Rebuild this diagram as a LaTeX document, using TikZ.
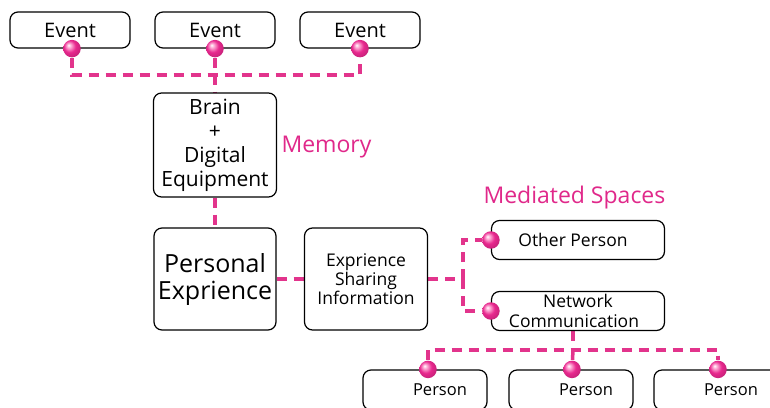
\documentclass[tikz,border=0pt]{standalone}
\usepackage{fontspec}
\setmainfont{Open Sans}
\usetikzlibrary{positioning, backgrounds}

\definecolor{linkpink}{HTML}{E2348C}
\definecolor{labelpink}{HTML}{E0288A}
\definecolor{dotpink}{HTML}{E8288E}
\definecolor{dotlight}{HTML}{FFB8DC}

\pgfdeclareradialshading{pinkball}{\pgfqpoint{-10bp}{10bp}}{%
  color(0bp)=(white); color(5bp)=(dotlight); color(17bp)=(dotpink);
  color(30bp)=(dotpink!85!black); color(50bp)=(dotpink!60!black)}

\begin{document}
\begin{tikzpicture}[
    x=1pt, y=-1pt,
    box/.style={
        rectangle, draw, line width=1.2pt, rounded corners=8pt,
        align=center, fill=white, inner sep=2pt
    },
    eventbox/.style={box, minimum width=120pt, minimum height=36pt,
        font=\fontsize{20}{22}\selectfont},
    personbox/.style={box, minimum width=124pt, minimum height=40pt,
        font=\fontsize{16.5}{20}\selectfont},
    spacebox/.style={box, minimum width=173pt, minimum height=39pt,
        font=\fontsize{17.5}{20}\selectfont},
    dot/.style={circle, shading=pinkball, shade, minimum size=17.5pt, inner sep=0pt},
    link/.style={draw=linkpink, line width=3.5pt, dash pattern=on 10pt off 7pt},
    tag/.style={text=labelpink, font=\fontsize{23}{26}\selectfont, anchor=west}
]
\clip (0,0) rectangle (770,407);

%% ─── TOP: Events ─────────────────────────────────────────────
\node[eventbox] (event1) at (70,30)  {Event};
\node[eventbox] (event2) at (215,30) {Event};
\node[eventbox] (event3) at (360,30) {Event};

\node[dot] (evdot1) at ([xshift=2pt]event1.south) {};
\node[dot] (evdot2) at (event2.south) {};
\node[dot] (evdot3) at (event3.south) {};

\coordinate (gather) at (215,75);

%% ─── MIDDLE: Memory and Experience ───────────────────────────
\node[box, minimum width=123pt, minimum height=104pt,
      font=\fontsize{21}{24}\selectfont] (brain) at (215,145)
      {Brain\\+\\Digital\\Equipment};

\node[tag] (memory) at (278,147) {Memory};

\node[box, minimum width=122pt, minimum height=102pt,
      font=\fontsize{25}{27}\selectfont] (personal) at (215,279)
      {Personal\\Exprience};

\node[box, minimum width=123pt, minimum height=102pt,
      font=\fontsize{17.5}{19}\selectfont] (sharing) at (366,279)
      {Exprience\\Sharing\\Information};

%% ─── RIGHT: Mediated Spaces ──────────────────────────────────
\node[tag] (mediated) at (480,198) {Mediated Spaces};

\node[spacebox] (other)   at (578,240) {Other Person\hspace*{10pt}};
\node[spacebox] (network) at (578,311) {Network\\Communication\hspace*{8pt}};

\node[dot] (otherdot)   at (other.west) {};
\node[dot] (networkdot) at (network.west) {};

\coordinate (split) at (463,279);

%% ─── BOTTOM: Persons ─────────────────────────────────────────
\node[personbox] (person1) at (425,390) {\hspace*{30pt}Person};
\node[personbox] (person2) at (571,390) {\hspace*{30pt}Person};
\node[personbox] (person3) at (716,390) {\hspace*{30pt}Person};

\node[dot] (pdot1) at ([xshift=3pt]person1.north) {};
\node[dot] (pdot2) at ([xshift=1pt]person2.north) {};
\node[dot] (pdot3) at ([xshift=2pt]person3.north) {};

\coordinate (fork) at (573,350);

%% ─── LINKS ───────────────────────────────────────────────────
\begin{scope}[on background layer]
  \draw[link] (evdot1) |- (gather) -| (evdot3);
  \draw[link] (evdot2) -- (brain.north);
  \draw[link] (brain) -- (personal);
  \draw[link] (personal) -- (sharing);
  \draw[link] (sharing.east) -- (split);
  \draw[link] (split) |- (otherdot);
  \draw[link] (split) |- (networkdot);
  \draw[link] (fork |- network.south) -- (fork);
  \draw[link] (pdot1) |- (fork) -| (pdot3);
  \draw[link] (fork) -- (pdot2);
\end{scope}

\end{tikzpicture}
\end{document}
